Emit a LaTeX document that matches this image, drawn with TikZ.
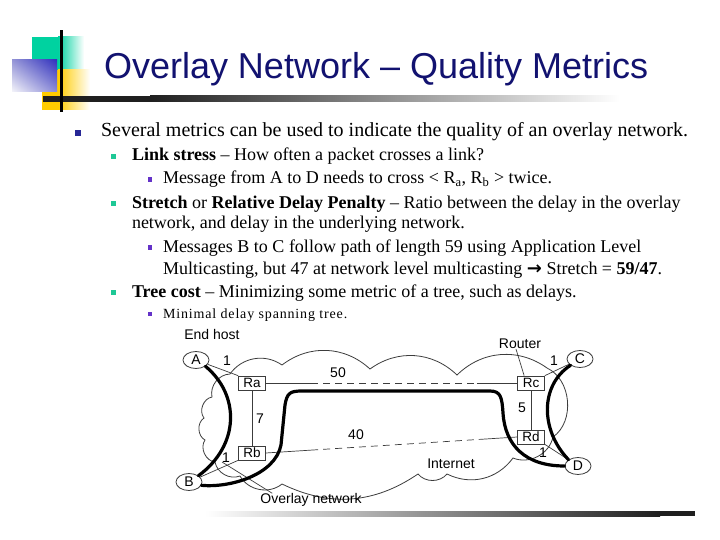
\documentclass[tikz,border=0pt]{standalone}
\usepackage{fontspec}
\setmainfont{Liberation Serif}
\newfontfamily\arialf{Liberation Sans}
\newfontfamily\dejavuf{DejaVu Sans}
\usetikzlibrary{shapes.geometric,calc,shadings}
\definecolor{titleblue}{RGB}{18,18,112}
\definecolor{bulA}{RGB}{40,40,150}
\definecolor{bulB}{RGB}{30,200,150}
\definecolor{bulC}{RGB}{100,50,200}
\definecolor{sqgreen}{RGB}{0,210,160}
\definecolor{sqyellow}{RGB}{255,204,0}
\definecolor{linegray}{RGB}{60,60,60}
\definecolor{bqul}{RGB}{150,150,215}
\definecolor{bqur}{RGB}{50,50,190}
\definecolor{bqll}{RGB}{245,245,250}
\definecolor{bqlr}{RGB}{140,140,215}
\tikzset{
  txt/.style={anchor=base west,inner sep=0pt,outer sep=0pt},
  bulletA/.style={fill=bulA,minimum size=5.5pt,inner sep=0pt},
  bulletB/.style={fill=bulB,minimum size=5pt,inner sep=0pt},
  bulletC/.style={fill=bulC,minimum size=4.5pt,inner sep=0pt},
  host/.style={ellipse,draw=linegray,line width=0.8pt,minimum width=26pt,minimum height=17pt,inner sep=0pt,font=\arialf\fontsize{14}{14}\selectfont,fill=white},
  router/.style={rectangle,draw=linegray,line width=0.7pt,minimum width=27pt,minimum height=14pt,inner sep=0pt,font=\arialf\fontsize{13.5}{14}\selectfont,fill=white},
  lbl/.style={inner sep=0pt,font=\arialf\fontsize{14}{14}\selectfont},
  link/.style={draw=linegray,line width=0.7pt},
  overlay/.style={draw=black,line width=3.2pt,line cap=round,line join=round},
  cloudline/.style={draw=linegray,line width=0.8pt},
}
\newcommand{\szA}{\fontsize{20}{24}\selectfont}
\newcommand{\szB}{\fontsize{18}{22}\selectfont}
\newcommand{\szC}{\fontsize{18}{21}\selectfont}
\newcommand{\szD}{\fontsize{14}{16}\selectfont\addfontfeature{LetterSpace=6}}
\begin{document}
\begin{tikzpicture}[x=1pt,y=-1pt]
\useasboundingbox (0,0) rectangle (720,540);
\fill[white] (0,0) rectangle (720,540);
% --- corner decoration ---
\fill[sqgreen] (32,37) rectangle (58,70);
\shade[left color=sqgreen,right color=white] (58,37) rectangle (84,70);
\fill[sqyellow] (42,70) rectangle (58,110);
\shade[left color=sqyellow,right color=white] (58,70) rectangle (90,110);
\shade[upper left=bqul,upper right=bqur,lower left=bqll,lower right=bqlr] (12,60) rectangle (57,92);
\fill[black!88] (43,96) rectangle (150,102);
\shade[left color=black!88,right color=white] (150,96) rectangle (620,102);
\fill[black] (60,30) rectangle (63,112);
% bottom bar
\shade[left color=white,right color=black!88] (205,511) rectangle (660,516);
\fill[black!88] (660,511) rectangle (695,516);
% --- title ---
\node[txt,font=\arialf\fontsize{36}{40}\selectfont,text=titleblue] (title) at (104,79) {Overlay Network – Quality Metrics};
% --- bullets and text ---
\node[bulletA] (b1) at (78,133) {};
\node[txt,font=\szA] (t1) at (101,137) {Several metrics can be used to indicate the quality of an overlay network.};
\node[bulletB] (b2) at (113.5,156.5) {};
\node[txt,font=\szB] (t2) at (132,161) {\textbf{Link stress} – How often a packet crosses a link?};
\node[bulletC] (b3) at (150,179.5) {};
\node[txt,font=\szC] (t3) at (163,184) {Message from A to D needs to cross < R\textsubscript{a}, R\textsubscript{b} > twice.};
\node[bulletB] (b4) at (113.5,203.5) {};
\node[txt,font=\szB] (t4) at (132,208) {\textbf{Stretch} or \textbf{Relative Delay Penalty} – Ratio between the delay in the overlay};
\node[txt,font=\szB] (t4b) at (132,229) {network, and delay in the underlying network.};
\node[bulletC] (b5) at (150,247.5) {};
\node[txt,font=\szC] (t5) at (163,252) {Messages B to C follow path of length 59 using Application Level};
\node[txt,font=\szC] (t5b) at (163,274) {Multicasting, but 47 at network level multicasting {\dejavuf\bfseries →} Stretch = \textbf{59/47}.};
\node[bulletB] (b6) at (113.5,292.5) {};
\node[txt,font=\szB] (t6) at (132,297) {\textbf{Tree cost} – Minimizing some metric of a tree, such as delays.};
\node[bulletC] (b7) at (150,314) {};
\node[txt,font=\szD] (t7) at (163,318) {Minimal delay spanning tree.};
% --- diagram: cloud ---
\draw[cloudline] (230,374) to[bend left=45] (282,365) to[bend left=40] (370,369)
  to[bend left=40] (457,375) to[bend left=40] (547,368) to[bend left=60] (553,437)
  to[bend left=50] (513,458) to[bend left=40] (447,474) to[bend left=50] (418,474)
  to[bend left=30] (282,484) to[bend left=50] (240,476) to[bend left=50] (215,462)
  to[bend left=60] (205,440) to[bend left=60] (204,418) to[bend left=60] (212,397)
  to[bend left=50] (230,374);
% --- nodes ---
\node[host] (A) at (196,360) {A};
\node[host] (B) at (189,482) {B};
\node[host] (C) at (580,359) {C};
\node[host] (D) at (578,466) {D};
\node[router] (Ra) at (252,383) {Ra};
\node[router] (Rb) at (252,453) {Rb};
\node[router] (Rc) at (531,383) {Rc};
\node[router] (Rd) at (531,437) {Rd};
\node[lbl] (endhost) at (212,334) {End host};
\node[lbl] (router) at (520,344) {Router};
\node[lbl] (ovl) at (311,500) {Overlay network};
\node[lbl] (inet) at (451,464) {Internet};
\node[lbl] (w1a) at (227,361) {1};
\node[lbl] (w50) at (338,373) {50};
\node[lbl] (w7) at (260,419) {7};
\node[lbl] (w40) at (356,435) {40};
\node[lbl] (w1b) at (226,458) {1};
\node[lbl] (w5) at (522,408) {5};
\node[lbl] (w1c) at (554,361) {1};
\node[lbl] (w1d) at (543,453) {1};
% --- links ---
\draw[link] (A) -- (Ra.north west);
\draw[link] (B) -- (Rb.south west);
\draw[link] (C) -- (Rc.north east);
\draw[link] (D) -- (Rd.south east);
\draw[link] (Ra) -- (Rb);
\draw[link] (Rc) -- (Rd);
\coordinate (ac1) at ($(Ra.east)!0.18!(Rc.west)$);
\coordinate (ac2) at ($(Ra.east)!0.84!(Rc.west)$);
\draw[link] (Ra.east) -- (ac1);
\draw[link,dash pattern=on 7pt off 5pt] (ac1) -- (ac2);
\draw[link] (ac2) -- (Rc.west);
\coordinate (bd1) at ($(Rb.east)!0.18!(Rd.west)$);
\coordinate (bd2) at ($(Rb.east)!0.85!(Rd.west)$);
\draw[link] (Rb.east) -- (bd1);
\draw[link,dash pattern=on 7pt off 5pt] (bd1) -- (bd2);
\draw[link] (bd2) -- (Rd.west);
\draw[link] ($(Rc.north west)+(7,0)$) -- ($(router.south)+(-4,0)$);
\coordinate (ovp) at (222,462);
\draw[link] (ovp) -- ($(ovl.north west)+(12,0)$);
% --- overlay thick paths ---
\draw[overlay] (A.south east) .. controls (240,395) and (240,445) .. (B.north east);
\draw[overlay] (C.south west) .. controls (540,385) and (540,430) .. (D.north west);
\draw[overlay] (B.-15) .. controls (230,488) and (275,475) .. (281,445) -- (285,405)
   .. controls (287,393) and (290,391) .. (302,391) -- (490,391)
   .. controls (501,391) and (502,398) .. (503,413)
   .. controls (505,445) and (525,466) .. (D.west);
\end{tikzpicture}
\end{document}
